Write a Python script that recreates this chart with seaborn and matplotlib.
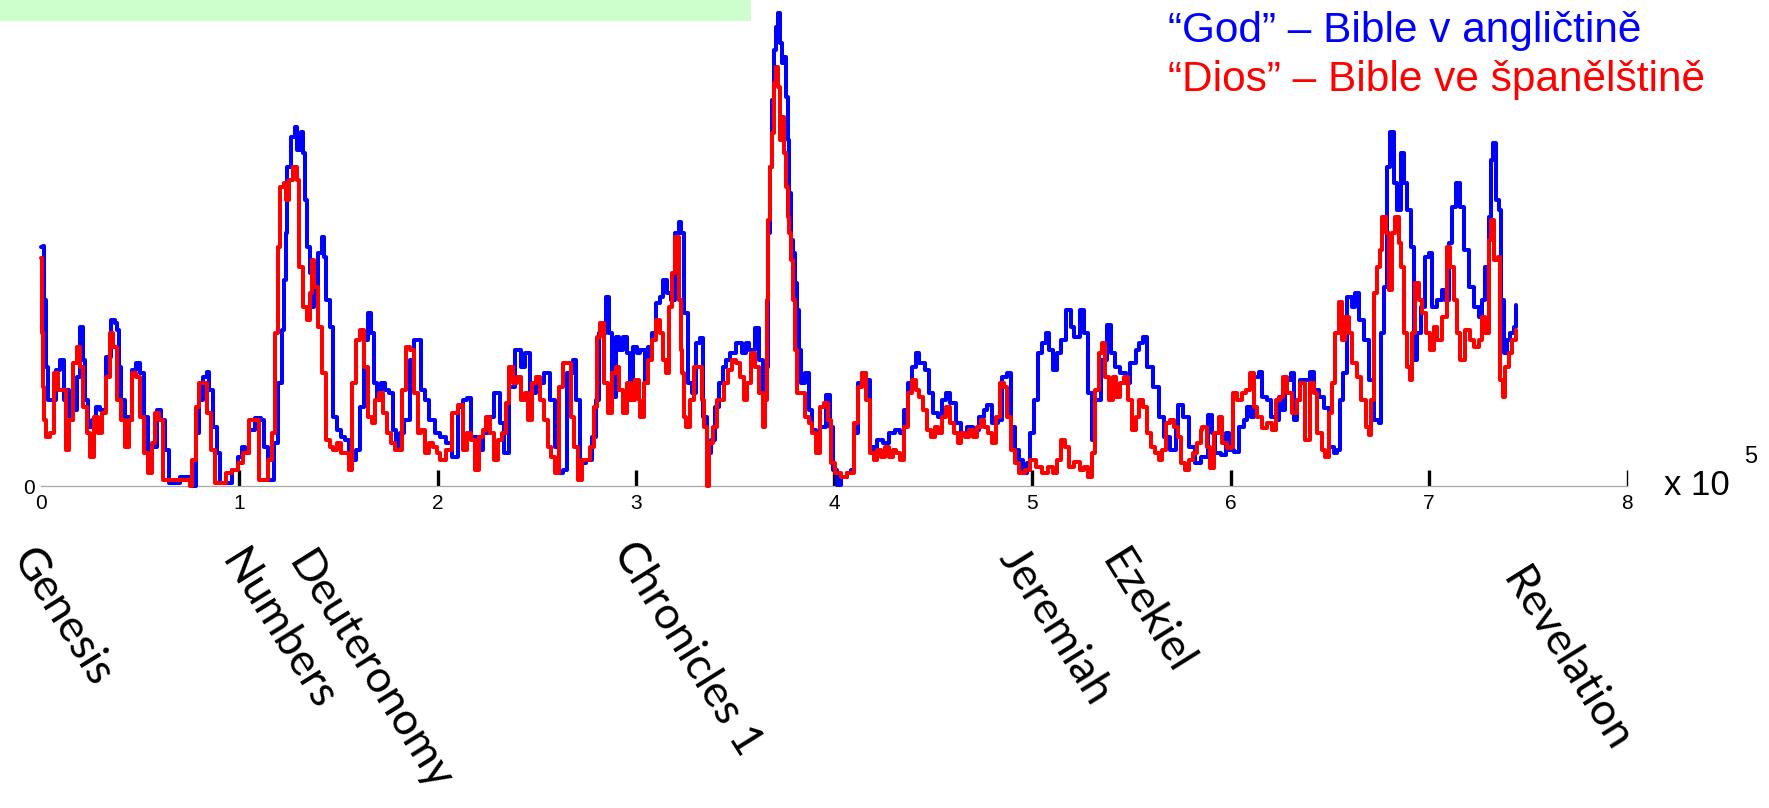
import matplotlib
matplotlib.use("Agg")
import matplotlib.pyplot as plt
import seaborn as sns
from matplotlib.patches import Rectangle

# ---------------- data (x in units of 1e5 words, y = window count) ----------------
god_x = [0.000, 0.008, 0.017, 0.027, 0.037, 0.066, 0.075, 0.095, 0.114, 0.124, 0.143, 0.162, 0.181, 0.195, 0.210,
         0.220, 0.239, 0.259, 0.278, 0.297, 0.326, 0.355, 0.375, 0.384, 0.394, 0.403, 0.423, 0.442, 0.461, 0.481,
         0.500, 0.519, 0.539, 0.558, 0.587, 0.606, 0.625, 0.645, 0.683, 0.703, 0.741, 0.761, 0.780, 0.799, 0.819,
         0.838, 0.847, 0.867, 0.886, 0.905, 0.934, 0.963, 0.992, 1.012, 1.031, 1.050, 1.079, 1.108, 1.127, 1.147,
         1.170, 1.176, 1.195, 1.214, 1.224, 1.234, 1.243, 1.263, 1.282, 1.292, 1.311, 1.320, 1.330, 1.340, 1.359,
         1.369, 1.378, 1.398, 1.417, 1.427, 1.436, 1.456, 1.475, 1.494, 1.514, 1.533, 1.552, 1.571, 1.591, 1.610,
         1.629, 1.649, 1.664, 1.678, 1.697, 1.716, 1.736, 1.755, 1.774, 1.793, 1.813, 1.832, 1.861, 1.881, 1.900,
         1.919, 1.938, 1.958, 1.986, 2.015, 2.044, 2.073, 2.102, 2.131, 2.151, 2.170, 2.199, 2.228, 2.257, 2.286,
         2.315, 2.334, 2.363, 2.392, 2.421, 2.440, 2.469, 2.498, 2.537, 2.566, 2.595, 2.614, 2.633, 2.653, 2.681,
         2.701, 2.720, 2.749, 2.778, 2.797, 2.817,
         2.830, 2.850, 2.863, 2.878, 2.898, 2.917, 2.936, 2.956, 2.971, 2.985, 3.004, 3.023, 3.048, 3.062, 3.081,
         3.100, 3.120, 3.139, 3.158, 3.177, 3.197, 3.216, 3.230, 3.245, 3.264, 3.284, 3.303, 3.322, 3.341, 3.361,
         3.380, 3.399, 3.419, 3.438, 3.457, 3.476, 3.505, 3.534, 3.554, 3.573, 3.602, 3.621, 3.640, 3.654, 3.665,
         3.679, 3.689, 3.698, 3.708, 3.717, 3.727, 3.737, 3.746, 3.756, 3.766, 3.775, 3.785, 3.795, 3.804, 3.814,
         3.824, 3.833, 3.852, 3.872, 3.891, 3.910, 3.930, 3.959, 3.978, 3.997, 4.016, 4.036, 4.065, 4.084, 4.103,
         4.122, 4.142, 4.161, 4.180, 4.200, 4.219, 4.248, 4.277, 4.306, 4.335, 4.354, 4.373, 4.392, 4.412, 4.431,
         4.460, 4.479, 4.499, 4.527, 4.547, 4.566, 4.585, 4.614, 4.643, 4.672, 4.701, 4.730, 4.759, 4.772, 4.797,
         4.826, 4.846, 4.875, 4.894, 4.913, 4.932, 4.952, 4.971, 4.990, 5.010, 5.029, 5.048, 5.067, 5.087, 5.106,
         5.125, 5.145, 5.170, 5.193, 5.212, 5.241, 5.260, 5.279, 5.299, 5.318, 5.347, 5.376, 5.395, 5.415, 5.444,
         5.473, 5.492, 5.521, 5.540, 5.559, 5.579, 5.608, 5.637, 5.665, 5.694, 5.723, 5.737, 5.762, 5.791, 5.820,
         5.849, 5.866, 5.886, 5.908, 5.924, 5.950, 5.975, 5.992, 6.017, 6.042, 6.067, 6.084, 6.101, 6.121, 6.143,
         6.160, 6.185, 6.202, 6.227, 6.244, 6.261, 6.277, 6.303, 6.319, 6.336, 6.353, 6.378, 6.400, 6.420, 6.445,
         6.471, 6.496, 6.521, 6.538, 6.551, 6.568, 6.588, 6.613, 6.630, 6.647, 6.672, 6.697, 6.723, 6.748, 6.761,
         6.773, 6.790, 6.807, 6.824, 6.840, 6.861, 6.877, 6.891, 6.908, 6.924, 6.941, 6.961, 6.983, 7.000, 7.017,
         7.042, 7.067, 7.084, 7.101, 7.118, 7.139, 7.156, 7.176, 7.202, 7.227, 7.252, 7.269, 7.286, 7.303, 7.314,
         7.324, 7.339, 7.353, 7.365, 7.378, 7.395, 7.412, 7.429, 7.442]
god_y = [23.9, 24.0, 18.6, 11.9, 8.6, 8.6, 11.6, 12.6, 8.6, 9.6, 6.6, 7.6, 10.9, 15.9, 12.6,
         8.6, 5.9, 6.6, 7.9, 7.6, 12.9, 16.6, 16.3, 15.6, 11.9, 8.6, 6.9, 6.6, 11.6, 12.3,
         11.3, 6.9, 3.3, 3.9, 7.6, 6.6, 3.6, 0.3, 0.3, 0.9, 0.9, 0.0, 5.3, 8.6, 10.9,
         11.4, 9.6, 5.9, 3.3, 0.3, 0.3, 1.6, 2.9, 3.9, 3.3, 5.6, 6.8, 6.6, 3.9, 0.6,
         0.6, 4.3, 10.3, 15.6, 20.6, 25.3, 31.9, 34.9, 35.9, 33.6, 35.4, 33.3, 28.6, 23.9, 21.3,
         17.9, 19.9, 23.3, 24.9, 22.9, 18.6, 15.9, 6.9, 5.6, 4.9, 4.6, 3.6, 2.6, 3.6, 7.9,
         14.6, 17.3, 15.3, 10.3, 8.6, 10.3, 9.6, 9.3, 5.6, 3.9, 5.3, 6.6, 12.6, 14.6, 14.6,
         9.6, 8.6, 6.6, 5.3, 4.9, 4.3, 2.9, 7.9, 8.6, 8.8, 4.9, 3.6, 5.3, 6.9, 9.3,
         6.3, 3.3, 9.9, 13.6, 11.9, 13.3, 9.3, 10.3, 11.3, 8.6, 3.9, 1.3, 1.6, 11.3, 12.6,
         8.6, 2.3, 2.6, 4.9, 8.6, 15.3,
         15.3, 18.9, 15.3, 8.9, 14.9, 13.6, 14.9, 13.3, 8.6, 13.9, 13.3, 13.6, 10.3, 13.9, 15.3,
         18.3, 18.9, 20.6, 19.3, 18.6, 25.3, 26.4, 25.3, 17.3, 10.3, 9.3, 14.3, 14.8, 6.9, 3.3,
         4.6, 7.9, 10.3, 11.9, 12.6, 13.3, 14.3, 13.3, 14.3, 13.6, 15.8, 12.6, 8.6, 11.9, 25.3,
         31.9, 38.6, 43.6, 45.9, 47.3, 44.3, 42.3, 42.9, 38.9, 34.6, 29.3, 24.6, 23.3, 20.3, 17.6,
         13.6, 10.3, 11.3, 7.6, 5.6, 4.6, 5.9, 9.1, 5.9, 1.6, 0.1, 0.9, 1.3, 1.6, 5.3,
         10.3, 11.3, 10.6, 3.9, 3.3, 4.6, 4.3, 5.3, 5.6, 5.3, 7.6, 10.3, 11.9, 13.3, 12.3,
         11.6, 9.3, 7.3, 6.9, 8.6, 9.3, 8.3, 6.3, 5.3, 5.9, 5.6, 6.9, 7.6, 8.1, 6.3,
         6.6, 10.9, 11.3, 5.9, 3.6, 2.6, 1.3, 2.3, 5.3, 8.6, 13.3, 14.3, 15.3, 13.6, 11.6,
         13.3, 14.6, 17.6, 15.9, 14.9, 17.6, 15.3, 9.3, 4.6, 8.6, 12.6, 16.1, 13.3, 11.9, 11.3,
         10.3, 12.3, 13.6, 14.3, 14.9, 11.9, 9.9, 6.9, 4.9, 3.6, 5.6, 8.1, 6.9, 3.9, 2.3,
         2.9, 2.9, 7.1, 5.3, 3.3, 3.1, 5.3, 3.6, 3.4, 5.9, 6.6, 7.9, 6.9, 10.9, 11.4,
         8.9, 8.6, 6.9, 6.6, 8.9, 7.6, 10.6, 11.3, 6.6, 8.6, 10.6, 10.6, 11.4, 9.6, 8.9,
         7.8, 3.9, 3.3, 3.6, 8.6, 11.3, 18.9, 17.9, 19.3, 16.6, 14.6, 10.6, 6.6, 6.3, 15.3,
         19.9, 31.9, 35.4, 30.3, 27.6, 33.3, 30.3, 27.6, 23.9, 12.6, 15.3, 17.9, 22.9, 23.3, 17.9,
         18.6, 19.6, 18.6, 24.3, 27.9, 30.3, 27.9, 23.6, 19.9, 17.9, 16.9, 18.6, 21.9, 26.9, 32.6,
         34.3, 28.6, 27.6, 18.6, 13.3, 14.6, 15.3, 15.9, 18.1]

dios_x = [0.000, 0.004, 0.008, 0.017, 0.027, 0.046, 0.066, 0.085, 0.104, 0.124, 0.143, 0.162, 0.181, 0.197, 0.210,
          0.230, 0.249, 0.268, 0.288, 0.307, 0.326, 0.346, 0.365, 0.384, 0.403, 0.423, 0.442, 0.458, 0.481, 0.500,
          0.519, 0.539, 0.558, 0.577, 0.597, 0.616, 0.645, 0.683, 0.722, 0.751, 0.761, 0.780, 0.799, 0.819, 0.838,
          0.857, 0.876, 0.905, 0.934, 0.963, 0.992, 1.021, 1.050, 1.079, 1.098, 1.127, 1.147, 1.166, 1.181, 1.195,
          1.205, 1.224, 1.234, 1.253, 1.272, 1.292, 1.301, 1.320, 1.340, 1.359, 1.369, 1.378, 1.398, 1.417, 1.436,
          1.456, 1.475, 1.494, 1.514, 1.533, 1.552, 1.571, 1.591, 1.610, 1.629, 1.649, 1.668, 1.687, 1.707, 1.726,
          1.745, 1.764, 1.784, 1.803, 1.822, 1.842, 1.861, 1.880, 1.900, 1.919, 1.938, 1.958, 1.977, 1.996, 2.015,
          2.044, 2.073, 2.102, 2.131, 2.151, 2.170, 2.189, 2.208, 2.228, 2.247, 2.266, 2.286, 2.305, 2.324, 2.344,
          2.363, 2.382, 2.402, 2.421, 2.440, 2.459, 2.479, 2.498, 2.517, 2.537, 2.556, 2.575, 2.595, 2.614, 2.633,
          2.653, 2.672, 2.691, 2.710, 2.730, 2.749, 2.768, 2.788, 2.807,
          2.821, 2.840, 2.859, 2.878, 2.898, 2.917, 2.936, 2.956, 2.975, 2.994, 3.014, 3.023, 3.042, 3.062, 3.081,
          3.100, 3.120, 3.139, 3.152, 3.168, 3.183, 3.197, 3.216, 3.226, 3.235, 3.245, 3.255, 3.274, 3.293, 3.312,
          3.332, 3.345, 3.357, 3.370, 3.390, 3.409, 3.428, 3.447, 3.467, 3.486, 3.505, 3.525, 3.544, 3.563, 3.582,
          3.602, 3.621, 3.640, 3.650, 3.660, 3.669, 3.679, 3.689, 3.698, 3.708, 3.717, 3.727, 3.737, 3.746, 3.756,
          3.766, 3.775, 3.785, 3.795, 3.804, 3.814, 3.833, 3.852, 3.872, 3.891, 3.910, 3.930, 3.949, 3.968, 3.987,
          4.007, 4.036, 4.065, 4.084, 4.103, 4.122, 4.142, 4.161, 4.180, 4.200, 4.219, 4.238, 4.258, 4.277, 4.296,
          4.315, 4.335, 4.354, 4.373, 4.392, 4.412, 4.431, 4.450, 4.470, 4.489, 4.508, 4.527, 4.547, 4.566, 4.585,
          4.605, 4.624, 4.643, 4.663, 4.682, 4.701, 4.720, 4.740, 4.759, 4.778, 4.797, 4.817, 4.836, 4.855, 4.875,
          4.894, 4.913, 4.932, 4.961, 4.990, 5.019, 5.048, 5.077, 5.106, 5.125, 5.145, 5.164, 5.183, 5.212, 5.241,
          5.260, 5.279, 5.299, 5.318, 5.337, 5.351, 5.366, 5.386, 5.405, 5.424, 5.444, 5.463, 5.482, 5.502, 5.521,
          5.540, 5.559, 5.579, 5.598, 5.617, 5.637, 5.656, 5.675, 5.694, 5.714, 5.733, 5.752, 5.771, 5.791, 5.810,
          5.829,
          5.849, 5.857, 5.882, 5.899, 5.919, 5.941, 5.958, 5.983, 6.000, 6.013, 6.034, 6.059, 6.076, 6.097, 6.118,
          6.134, 6.160, 6.185, 6.210, 6.232, 6.252, 6.266, 6.286, 6.311, 6.336, 6.353, 6.378, 6.400, 6.420, 6.437,
          6.462, 6.479, 6.496, 6.513, 6.529, 6.546, 6.563, 6.580, 6.597, 6.613, 6.639, 6.659, 6.681, 6.697, 6.709,
          6.723, 6.739, 6.756, 6.765, 6.782, 6.798, 6.815, 6.832, 6.849, 6.861, 6.874, 6.891, 6.904, 6.916, 6.933,
          6.950, 6.966, 6.988, 7.008, 7.025, 7.042, 7.067, 7.092, 7.109, 7.126, 7.143, 7.160, 7.185, 7.207, 7.227,
          7.252, 7.269, 7.286, 7.303, 7.314, 7.331, 7.348, 7.361, 7.373, 7.387, 7.403, 7.420, 7.442]
dios_y = [22.8, 15.3, 9.9, 6.6, 4.9, 5.3, 11.3, 9.6, 9.6, 3.6, 6.6, 12.3, 13.9, 11.9, 7.9,
          5.3, 2.9, 6.9, 5.3, 7.3, 10.9, 15.3, 13.9, 8.6, 6.6, 3.9, 6.6, 11.3, 10.9, 6.9,
          3.3, 1.3, 4.3, 7.3, 6.6, 0.6, 0.6, 0.6, 0.6, 0.0, 2.6, 7.9, 10.3, 10.3, 7.3,
          3.6, 0.3, 0.3, 1.3, 1.6, 2.3, 3.3, 6.6, 6.6, 0.6, 0.6, 2.6, 5.3, 15.3, 23.9,
          29.9, 30.3, 28.6, 30.6, 31.9, 30.6, 21.9, 17.9, 16.6, 19.3, 22.6, 19.9, 15.9, 11.3, 4.6,
          3.9, 3.6, 4.3, 3.3, 3.3, 1.6, 10.3, 14.6, 15.6, 11.9, 6.9, 6.3, 8.6, 9.3, 7.3,
          5.3, 4.3, 3.6, 3.6, 9.6, 13.9, 13.6, 9.3, 5.3, 5.6, 3.3, 4.3, 3.9, 3.3, 2.6,
          3.6, 7.3, 8.1, 3.6, 5.3, 4.6, 1.6, 4.9, 5.6, 6.9, 5.3, 2.6, 4.6, 5.3, 8.3,
          11.9, 10.3, 10.9, 8.6, 9.3, 6.6, 10.3, 10.9, 8.6, 6.6, 3.9, 2.9, 1.3, 9.9, 12.3,
          12.3, 6.9, 3.9, 0.6, 2.6, 2.6, 3.9, 7.9, 14.9,
          16.3, 10.3, 7.3, 11.3, 11.9, 9.6, 7.3, 10.3, 8.6, 10.6, 8.6, 6.9, 10.3, 12.6, 14.6,
          16.6, 15.3, 12.6, 11.3, 17.9, 21.3, 24.9, 18.6, 13.6, 11.3, 6.9, 5.9, 8.6, 11.9, 11.9,
          8.6, 5.9, 0.0, 4.3, 5.9, 8.6, 8.6, 10.3, 11.6, 12.6, 12.3, 10.9, 8.6, 10.3, 13.3,
          11.9, 9.3, 5.9, 8.6, 18.6, 26.6, 31.9, 35.3, 40.3, 41.9, 39.9, 34.6, 36.9, 33.3, 29.9,
          26.9, 25.3, 22.6, 18.6, 13.6, 9.3, 9.3, 6.9, 6.3, 5.3, 3.3, 7.9, 8.3, 6.6, 2.3,
          1.3, 0.9, 1.3, 1.3, 6.3, 9.9, 11.3, 8.6, 3.3, 2.6, 3.6, 2.9, 3.9, 2.9, 3.6,
          3.3, 2.6, 5.9, 9.3, 10.6, 9.6, 8.9, 7.6, 5.6, 4.9, 5.9, 5.3, 6.9, 7.9, 6.3,
          5.3, 4.3, 5.3, 4.9, 5.6, 4.9, 5.9, 6.6, 5.9, 5.3, 4.3, 6.9, 10.3, 9.9, 6.9,
          3.6, 2.3, 1.3, 1.6, 2.6, 1.9, 1.3, 1.9, 1.3, 2.6, 4.6, 3.9, 1.9, 2.4, 1.6,
          1.9, 0.9, 3.3, 9.6, 13.3, 14.3, 10.9, 8.6, 10.9, 8.9, 10.3, 10.9, 8.6, 5.6, 6.9,
          8.6, 7.9, 5.3, 3.9, 3.3, 2.6, 3.6, 6.3, 6.6, 5.9, 4.9, 2.3, 1.6, 2.6, 3.3,
          4.3,
          5.6, 5.9, 3.9, 1.8, 5.3, 6.9, 4.3, 3.8, 3.9, 9.3, 8.6, 9.3, 9.6, 11.3, 7.9,
          6.9, 5.8, 6.3, 5.6, 8.6, 8.9, 10.9, 9.3, 7.3, 8.6, 10.3, 4.6, 10.3, 9.3, 5.3,
          3.6, 2.9, 7.3, 10.3, 15.3, 18.4, 14.6, 16.9, 15.3, 12.3, 10.9, 8.6, 5.9, 5.1, 8.6,
          19.3, 21.9, 23.6, 26.9, 25.3, 19.6, 25.3, 26.9, 24.3, 21.9, 15.3, 11.9, 10.6, 15.3, 20.3,
          18.6, 17.3, 15.3, 13.6, 15.9, 14.6, 16.9, 23.9, 21.9, 18.6, 15.3, 12.6, 15.6, 14.6, 13.9,
          14.6, 16.9, 15.3, 24.6, 26.6, 22.6, 22.9, 10.6, 8.9, 11.9, 13.3, 14.6, 15.6]

x_ticks = [0, 1, 2, 3, 4, 5, 6, 7, 8]
books = ["Genesis", "Numbers", "Deuteronomy", "Chronicles 1", "Jeremiah", "Ezekiel", "Revelation"]
legend_texts = ["\u201cGod\u201d \u2013 Bible v angli\u010dtin\u011b",
                "\u201cDios\u201d \u2013 Bible ve \u0161pan\u011bl\u0161tin\u011b"]

# ---------------- layout / style ----------------
W, H = 1769, 808
BLUE, RED = "#0000ff", "#ff0000"
book_pos = [(62, 618), (278, 630), (370, 672), (687, 648), (1055, 626), (1147, 612), (1566, 660)]

sns.set_theme(style="white")
plt.rcParams["font.family"] = ["Liberation Sans", "DejaVu Sans"]

fig = plt.figure(figsize=(W / 100, H / 100), dpi=100)
fig.patch.set_facecolor("white")
ax = fig.add_axes([41 / W, 1 - 486 / H, (1627 - 41) / W, 480 / H])
ax.set_facecolor("none")

sns.lineplot(x=god_x, y=god_y, ax=ax, color=BLUE, lw=2.9, drawstyle="steps-post",
             estimator=None, sort=False, clip_on=False, zorder=2)
sns.lineplot(x=dios_x, y=dios_y, ax=ax, color=RED, lw=2.9, drawstyle="steps-post",
             estimator=None, sort=False, clip_on=False, zorder=3)

ax.set_xlim(0, 8)
ax.set_ylim(0, 48)
ax.set_xlabel("")
ax.set_ylabel("")
for s in ["left", "top", "right"]:
    ax.spines[s].set_visible(False)
ax.spines["bottom"].set_color("#a8a8a8")
ax.spines["bottom"].set_linewidth(0.9)
ax.spines["bottom"].set_zorder(1)

ax.set_xticks(x_ticks)
ax.set_xticklabels([str(t) for t in x_ticks])
ax.tick_params(axis="x", bottom=True, direction="in", length=11.5, width=2.4, color="black",
               pad=5.5, labelsize=15, labelcolor="black")
ax.set_yticks([0])
ax.set_yticklabels(["0"])
ax.tick_params(axis="y", left=False, length=0, pad=4.5, labelsize=15, labelcolor="black")
ticks = ax.xaxis.get_major_ticks()
ticks[0].tick1line.set_visible(False)
ticks[-1].tick1line.set_color("#b0b0b0")
ticks[-1].tick1line.set_markeredgewidth(1.0)

# x 10^5 multiplier
fig.text(1664 / W, 1 - 495 / H, "x 10", fontsize=25, ha="left", va="baseline", color="black")
fig.text(1744 / W, 1 - 463 / H, "5", fontsize=17, ha="left", va="baseline", color="black")

# legend texts
fig.text(1168 / W, 1 - 41.7 / H, legend_texts[0], fontsize=30.5, color=BLUE, ha="left", va="baseline")
fig.text(1168 / W, 1 - 90.7 / H, legend_texts[1], fontsize=30.5, color=RED, ha="left", va="baseline")

# book labels
for name, (px, py) in zip(books, book_pos):
    fig.text(px / W, 1 - py / H, name, rotation=-58, rotation_mode="anchor",
             ha="center", va="center", fontsize=32, color="black",
             family=["Lato", "DejaVu Sans"])

# light green title band (title itself cropped out of the frame)
fig.add_artist(Rectangle((0, 1 - 21 / H), 751 / W, 21 / H, transform=fig.transFigure,
                         facecolor="#ccffcc", edgecolor="none", zorder=0))

fig.savefig("out.png", dpi=100)
